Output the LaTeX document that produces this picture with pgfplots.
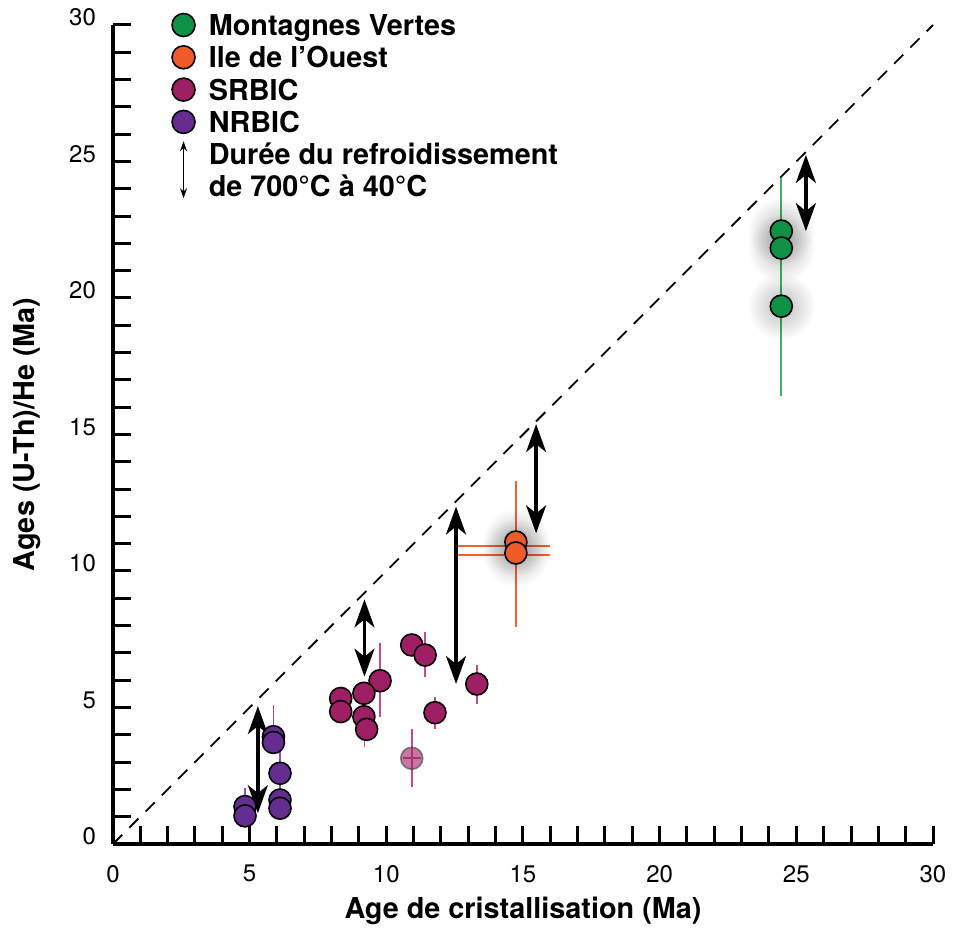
\documentclass[border=0pt]{standalone}
\usepackage{fontspec}
\setmainfont{TeX Gyre Heros}
\usepackage{pgfplots}
\pgfplotsset{compat=1.18}
\usetikzlibrary{arrows.meta,fadings}
\definecolor{cgreen}{RGB}{16,146,70}
\definecolor{corange}{RGB}{241,90,41}
\definecolor{csr}{RGB}{158,31,99}
\definecolor{cnr}{RGB}{102,45,145}
\definecolor{egreen}{RGB}{70,175,100}
\definecolor{eorange}{RGB}{241,100,50}
\definecolor{esr}{RGB}{195,75,145}
\definecolor{enr}{RGB}{135,85,185}
\tikzfading[name=glow, inner color=transparent!0, outer color=transparent!100]
\tikzset{bigarrow/.style={black, line width=1.7pt, {Stealth[length=14pt,width=10pt,inset=4pt]}-{Stealth[length=14pt,width=10pt,inset=4pt]}}}
\pgfplotsset{
  pt/.style={only marks, mark=*, mark size=5.5pt, mark options={draw=black, line width=0.8pt, fill=#1}, forget plot},
}
\begin{document}
\begin{tikzpicture}
\begin{axis}[
  name=ax,
  scale only axis,
  width=410pt, height=409.5pt,
  xmin=0, xmax=30, ymin=0, ymax=30,
  axis lines=left,
  x axis line style={-, line width=1.6pt},
  y axis line style={-, line width=1.6pt},
  xtick={0,5,...,30}, ytick={0,5,...,30},
  minor x tick num=4, minor y tick num=4,
  tick align=inside,
  major tick length=9pt, minor tick length=9pt,
  every tick/.style={black, line width=1.5pt},
  /pgf/number format/assume math mode=true,
  xticklabel style={font=\fontsize{12}{14}\selectfont, yshift=-7pt},
  yticklabel style={font=\fontsize{12}{14}\selectfont, xshift=-5pt, yshift=3.7pt},
  xlabel={Age de cristallisation (Ma)},
  ylabel={Ages (U-Th)/He (Ma)},
  xlabel style={at={(axis description cs:0.5,0)}, anchor=north, yshift=-23pt, font=\fontsize{14.4}{17}\selectfont\bfseries},
  ylabel style={at={(axis description cs:-0.0798,0.5)}, anchor=south, font=\fontsize{14.4}{17}\selectfont\bfseries},
  clip=false,
  legend cell align=left,
  legend style={draw=none, fill=none, inner sep=0pt, outer sep=0pt,
    at={(axis description cs:0.0652,1.0156)}, anchor=north west,
    font=\fontsize{14.4}{17}\selectfont\bfseries,
    nodes={inner sep=0pt, text height=11.6pt, text depth=1.2pt},
    row sep=3.35pt, column sep=6.9pt},
]
% legend entries
\addlegendimage{only marks, mark=*, mark size=5.75pt, mark options={draw=black, line width=0.8pt, fill=cgreen}}
\addlegendentry{Montagnes Vertes}
\addlegendimage{only marks, mark=*, mark size=5.75pt, mark options={draw=black, line width=0.8pt, fill=corange}}
\addlegendentry{Ile de l’Ouest}
\addlegendimage{only marks, mark=*, mark size=5.75pt, mark options={draw=black, line width=0.8pt, fill=csr}}
\addlegendentry{SRBIC}
\addlegendimage{only marks, mark=*, mark size=5.75pt, mark options={draw=black, line width=0.8pt, fill=cnr}}
\addlegendentry{NRBIC}
\addlegendimage{legend image code/.code={\draw[overlay, black, line width=0.6pt, {Stealth[length=5pt,width=3.5pt]}-{Stealth[length=5pt,width=3.5pt]}] (0.3cm,6.5pt) -- (0.3cm,-22pt);}}
\addlegendentry{Durée du refroidissement}
\addlegendimage{empty legend}
\addlegendentry{de 700°C à 40°C}

% 1:1 line
\addplot[black, line width=0.9pt, dash pattern=on 6.5pt off 5pt, forget plot] coordinates {(0,0) (30,30)};

% soft glow behind the green and orange samples
\addplot[only marks, mark=none, forget plot, nodes near coords={},
  every node near coord/.style={anchor=center, circle, inner sep=0pt, minimum size=34pt,
    fill=black, fill opacity=0.26, draw=none, path fading=glow}]
  coordinates {(24.45,19.7) (24.45,22.45) (24.45,21.83) (14.74,11.06) (14.74,10.66)};

% error lines
\addplot[egreen, line width=0.8pt, forget plot] coordinates {(24.45,16.4) (24.45,24.4)};
\addplot[eorange, line width=0.8pt, forget plot] coordinates {(14.74,7.95) (14.74,13.3)};
\addplot[eorange, line width=0.8pt, forget plot] coordinates {(12.6,10.92) (16.0,10.92)};
\addplot[eorange, line width=0.8pt, forget plot] coordinates {(12.6,10.59) (16.0,10.59)};
\addplot[esr, line width=0.8pt, forget plot] coordinates {(11.42,6.1) (11.42,7.78)};
\addplot[esr, line width=0.8pt, forget plot] coordinates {(9.77,4.64) (9.77,7.35)};
\addplot[esr, line width=0.8pt, forget plot] coordinates {(13.31,5.13) (13.31,6.56)};
\addplot[esr, line width=0.8pt, forget plot] coordinates {(11.78,4.2) (11.78,5.4)};
\addplot[esr, line width=0.8pt, forget plot] coordinates {(9.2,3.56) (9.2,5.0)};
\addplot[enr, line width=0.8pt, forget plot] coordinates {(5.87,3.8) (5.87,5.09)};
\addplot[enr, line width=0.8pt, forget plot] coordinates {(6.11,1.3) (6.11,3.6)};
\addplot[enr, line width=0.8pt, forget plot] coordinates {(4.83,1.0) (4.83,2.05)};

% faded SRBIC point
\addplot[esr, line width=0.8pt, forget plot] coordinates {(10.93,2.1) (10.93,4.2)};
\addplot[only marks, mark=*, mark size=5.5pt, mark options={draw=black!75, line width=0.8pt, fill=csr, opacity=0.6}, forget plot] coordinates {(10.93,3.14)};
\addplot[esr, line width=0.8pt, forget plot] coordinates {(10.6,3.14) (11.26,3.14)};

% data points
\addplot[pt=cnr] coordinates {(5.87,3.93) (5.87,3.72) (6.11,2.59) (6.11,1.61) (6.11,1.31) (4.83,1.37) (4.83,1.03)};
\addplot[pt=csr] coordinates {(10.93,7.29) (11.42,6.92) (13.31,5.86) (11.78,4.81) (9.77,5.98) (9.18,5.52) (8.33,5.33) (8.33,4.85) (9.18,4.66) (9.28,4.2)};
\addplot[pt=cgreen] coordinates {(24.45,19.7) (24.45,22.45) (24.45,21.83)};
\addplot[pt=corange] coordinates {(14.74,11.06) (14.74,10.66)};

% cooling duration arrows
\addplot[bigarrow, forget plot] coordinates {(5.3,1.13) (5.3,5.05)};
\addplot[bigarrow, forget plot] coordinates {(9.2,6.13) (9.2,8.96)};
\addplot[bigarrow, forget plot] coordinates {(12.55,5.86) (12.55,12.36)};
\addplot[bigarrow, forget plot] coordinates {(15.48,11.38) (15.48,15.38)};
\addplot[bigarrow, forget plot] coordinates {(25.35,22.45) (25.35,25.24)};
\end{axis}
\pgfresetboundingbox
\path ([shift={(-56.5pt,-42.5pt)}]ax.south west) rectangle ([shift={(10pt,12.5pt)}]ax.north east);
\end{tikzpicture}
\end{document}
